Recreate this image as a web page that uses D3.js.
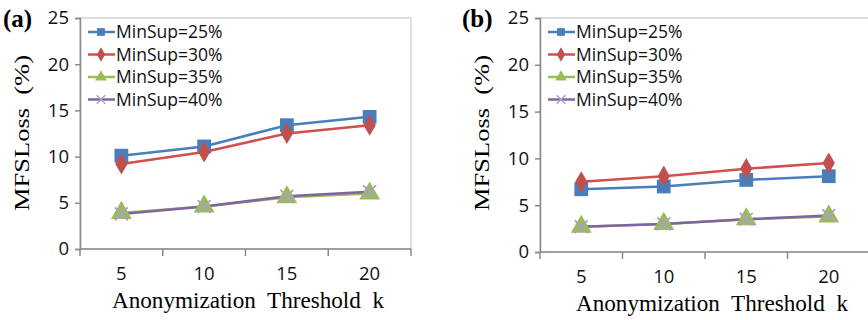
<!DOCTYPE html>
<html>
<head>
<meta charset="UTF-8">
<style>
  body { margin: 0; background: #fff; }
  .tick text { font-family: "Open Sans", sans-serif; }
</style>
</head>
<body>
<svg id="chart" width="868" height="320"></svg>
<script src="https://d3js.org/d3.v7.min.js"></script>
<script>
// k values on the x axis
const kValues = ["5", "10", "15", "20"];
const seriesNames = ["MinSup=25%", "MinSup=30%", "MinSup=35%", "MinSup=40%"];
const yTicks = [0, 5, 10, 15, 20, 25];

// panel (a)
const lossA25 = [10.1, 11.1, 13.4, 14.3];
const lossA30 = [9.2, 10.5, 12.5, 13.4];
const lossA35 = [3.9, 4.6, 5.6, 6.0];
const lossA40 = [3.8, 4.6, 5.7, 6.2];

// panel (b)
const lossB25 = [6.7, 7.0, 7.7, 8.1];
const lossB30 = [7.5, 8.1, 8.9, 9.5];
const lossB35 = [2.7, 3.0, 3.5, 3.8];
const lossB40 = [2.7, 3.0, 3.5, 3.9];

const colors = ["#4a7ebb", "#d0504d", "#9bbb59", "#8064a2"];
const markerFill = ["#4a7ebb", "#c0504d", "#9bbb59", "#a9a0c8"];
const symbols = [d3.symbolSquare, d3.symbolDiamond, d3.symbolTriangle, d3.symbolX];

const svg = d3.select("#chart");

function drawPanel(opt, series) {
  const g = svg.append("g");
  const x = d3.scaleBand().domain(kValues).range([opt.left, opt.right]);
  const y = d3.scaleLinear().domain([0, 25]).range([opt.bottom, opt.top]);

  // light frame round the plot area
  g.append("rect")
    .attr("x", opt.left).attr("y", opt.top)
    .attr("width", opt.right - opt.left).attr("height", opt.bottom - opt.top)
    .attr("fill", "none").attr("stroke", "#d4d4d4").attr("stroke-width", 1.5);

  const yAxis = g.append("g")
    .attr("transform", `translate(${opt.left},0)`)
    .call(d3.axisLeft(y).tickValues(yTicks).tickSize(5).tickPadding(6));
  yAxis.selectAll("text").attr("font-size", 18.5).attr("fill", "#111");

  // category axis: ticks on band edges
  const xAxis = g.append("g").attr("transform", `translate(0,${opt.bottom})`);
  xAxis.append("line")
    .attr("x1", opt.left).attr("x2", opt.right)
    .attr("stroke", "#8a8a8a").attr("stroke-width", 1.5);
  const edges = kValues.map(k => x(k)).concat([x(kValues[kValues.length - 1]) + x.bandwidth()]);
  xAxis.selectAll(".edge").data(edges).enter().append("line")
    .attr("x1", d => d).attr("x2", d => d).attr("y1", 0).attr("y2", 7)
    .attr("stroke", "#8a8a8a").attr("stroke-width", 1.5);
  xAxis.selectAll(".lab").data(kValues).enter().append("text")
    .attr("x", d => x(d) + x.bandwidth() / 2)
    .attr("y", 31)
    .attr("text-anchor", "middle")
    .attr("font-family", "Open Sans, sans-serif")
    .attr("font-size", 18.5).attr("fill", "#111")
    .text(d => d);

  yAxis.select(".domain").attr("stroke", "#8a8a8a").attr("stroke-width", 1.5);
  yAxis.selectAll(".tick line").attr("stroke", "#8a8a8a").attr("stroke-width", 1.5);

  const line = d3.line()
    .x((d, i) => x(kValues[i]) + x.bandwidth() / 2)
    .y(d => y(d));

  series.forEach((vals, s) => {
    g.append("path").datum(vals)
      .attr("d", line)
      .attr("fill", "none")
      .attr("stroke", colors[s])
      .attr("stroke-width", 2.5);
  });
  series.forEach((vals, s) => {
    g.selectAll(".m" + s).data(vals).enter().append("path")
      .attr("transform", (d, i) => `translate(${x(kValues[i]) + x.bandwidth() / 2},${y(d)})`)
      .attr("d", d3.symbol().type(symbols[s]).size(s === 3 ? 110 : (s === 1 ? 130 : 190)))
      .attr("fill", markerFill[s])
      .attr("stroke", s === 3 ? markerFill[s] : "none")
      .attr("stroke-width", 1.8);
  });

  // legend
  const leg = g.append("g");
  seriesNames.forEach((name, s) => {
    const ly = opt.top + 14 + s * 22.5;
    leg.append("line")
      .attr("x1", opt.left + 8).attr("x2", opt.left + 35)
      .attr("y1", ly).attr("y2", ly)
      .attr("stroke", colors[s]).attr("stroke-width", 2.5);
    leg.append("path")
      .attr("transform", `translate(${opt.left + 21},${ly})`)
      .attr("d", d3.symbol().type(symbols[s]).size(s === 3 ? 50 : 60))
      .attr("fill", markerFill[s])
      .attr("stroke", s === 3 ? markerFill[s] : "none")
      .attr("stroke-width", 1.5);
    leg.append("text")
      .attr("x", opt.left + 36).attr("y", ly + 6)
      .attr("font-family", "Open Sans, sans-serif")
      .attr("font-size", 17.5).attr("fill", "#111")
      .text(name);
  });

  // panel tag
  g.append("text")
    .attr("x", opt.tagX).attr("y", opt.top + 9)
    .attr("font-family", "Liberation Serif, serif")
    .attr("font-weight", "bold").attr("font-size", 25)
    .text(opt.tag);

  // y title
  g.append("text")
    .attr("transform", `translate(${opt.yTitleX},133) rotate(-90)`)
    .attr("text-anchor", "middle")
    .attr("font-family", "Liberation Serif, serif")
    .attr("font-size", 22)
    .attr("textLength", 156).attr("lengthAdjust", "spacingAndGlyphs")
    .attr("xml:space", "preserve")
    .text("MFSLoss  (%)");

  // x title
  g.append("text")
    .attr("x", opt.xTitleX).attr("y", opt.bottom + 59)
    .attr("text-anchor", "middle")
    .attr("font-family", "Liberation Serif, serif")
    .attr("font-size", 22.5)
    .attr("textLength", 272).attr("lengthAdjust", "spacingAndGlyphs")
    .attr("xml:space", "preserve")
    .text("Anonymization  Threshold  k");
}

drawPanel({ left: 80, right: 411, top: 18, bottom: 249, tag: "(a)", tagX: 3, yTitleX: 29, xTitleX: 248 },
  [lossA25, lossA30, lossA35, lossA40]);
drawPanel({ left: 540, right: 870, top: 18, bottom: 252, tag: "(b)", tagX: 462, yTitleX: 489, xTitleX: 712 },
  [lossB25, lossB30, lossB35, lossB40]);
</script>
</body>
</html>
